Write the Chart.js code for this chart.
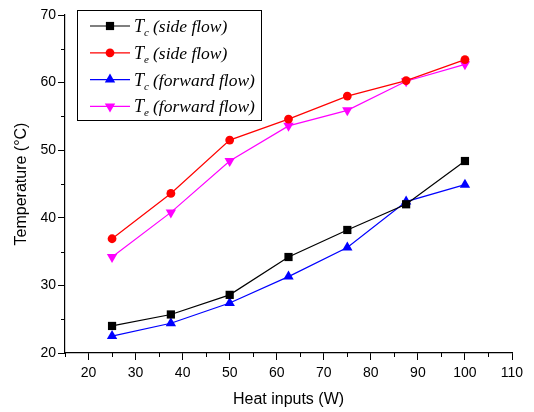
<!DOCTYPE html>
<html>
<head>
<meta charset="utf-8">
<script src="https://cdn.jsdelivr.net/npm/chart.js@4/dist/chart.umd.min.js"></script>
<style>
  html, body { margin: 0; padding: 0; background: #fff; }
  #wrap { width: 534px; height: 412px; }
</style>
</head>
<body>
<div id="wrap"><canvas id="temps"></canvas></div>
<script>
// heat input levels (W)
const heatInputs = [25, 37.5, 50, 62.5, 75, 87.5, 100];

// temperatures (°C)
const tcSide = [24.0, 25.7, 28.6, 34.2, 38.2, 42.0, 48.4];
const teSide = [36.9, 43.6, 51.5, 54.6, 58.0, 60.3, 63.4];
const tcForward = [22.5, 24.4, 27.4, 31.3, 35.6, 42.4, 44.9];
const teForward = [34.2, 40.8, 48.4, 53.6, 55.9, 60.2, 62.7];

const xTicks = [20, 30, 40, 50, 60, 70, 80, 90, 100, 110];
const yTicks = [20, 30, 40, 50, 60, 70];

// legend text: subscript letter + flow mode
const legendSubs = ['c', 'e', 'c', 'e'];
const legendModes = ['(side flow)', '(side flow)', '(forward flow)', '(forward flow)'];

function pts(ys) {
  return heatInputs.map((x, i) => ({ x: x, y: ys[i] }));
}

function series(data, color, style, radius, rotation) {
  return {
    data: pts(data),
    borderColor: color,
    backgroundColor: color,
    borderWidth: 1.2,
    pointStyle: style,
    pointRadius: radius,
    pointRotation: rotation || 0,
    pointBorderWidth: 0,
    tension: 0
  };
}

// short minor ticks at the 5-unit marks
const minorTicks = {
  id: 'minorTicks',
  afterDraw(chart) {
    const ctx = chart.ctx;
    const xs = chart.scales.x, ys = chart.scales.y;
    ctx.save();
    ctx.strokeStyle = '#000';
    ctx.lineWidth = 1;
    ctx.beginPath();
    for (let v = 15; v <= 110; v += 10) {
      const px = Math.round(xs.getPixelForValue(v)) + 0.5;
      ctx.moveTo(px, ys.bottom);
      ctx.lineTo(px, ys.bottom + 4);
    }
    for (let v = 25; v < 70; v += 10) {
      const py = Math.round(ys.getPixelForValue(v)) + 0.5;
      ctx.moveTo(xs.left, py);
      ctx.lineTo(xs.left - 4, py);
    }
    ctx.stroke();
    ctx.restore();
  }
};

// boxed legend with subscripted T labels
const boxLegend = {
  id: 'boxLegend',
  afterDraw(chart) {
    const ctx = chart.ctx;
    const left = 77.5, top = 10.5, w = 184, h = 110;
    ctx.save();
    ctx.fillStyle = '#fff';
    ctx.fillRect(left, top, w, h);
    ctx.strokeStyle = '#000';
    ctx.lineWidth = 1;
    ctx.strokeRect(left, top, w, h);
    chart.data.datasets.forEach((ds, i) => {
      const y = 26 + i * 26.8;
      ctx.strokeStyle = ds.borderColor;
      ctx.lineWidth = 1.2;
      ctx.beginPath();
      ctx.moveTo(90, y);
      ctx.lineTo(130, y);
      ctx.stroke();
      ctx.fillStyle = ds.backgroundColor;
      Chart.helpers.drawPoint(ctx, {
        pointStyle: ds.pointStyle,
        radius: ds.pointRadius,
        rotation: ds.pointRotation,
        borderWidth: 0
      }, 110, y);
      ctx.fillStyle = '#000';
      ctx.textBaseline = 'alphabetic';
      ctx.textAlign = 'left';
      ctx.font = 'italic 18px "Liberation Serif", serif';
      ctx.fillText('T', 134, y + 6);
      const tw = ctx.measureText('T').width;
      ctx.font = 'italic 11px "Liberation Serif", serif';
      ctx.fillText(legendSubs[i], 134 + tw, y + 10);
      ctx.font = 'italic 17.5px "Liberation Serif", serif';
      ctx.fillText(legendModes[i], 153, y + 6);
    });
    ctx.restore();
  }
};

new Chart(document.getElementById('temps'), {
  type: 'line',
  data: {
    datasets: [
      series(tcSide, '#000000', 'rect', 5.8),
      series(teSide, '#ff0000', 'circle', 4.4),
      series(tcForward, '#0000ff', 'triangle', 6),
      series(teForward, '#ff00ff', 'triangle', 6, 180)
    ]
  },
  options: {
    responsive: true,
    maintainAspectRatio: false,
    animation: false,
    layout: { padding: { top: 15, right: 22, left: 0, bottom: 0 } },
    plugins: { legend: { display: false }, tooltip: { enabled: false } },
    scales: {
      x: {
        type: 'linear',
        min: 15,
        max: 110,
        afterBuildTicks(scale) { scale.ticks = xTicks.map(v => ({ value: v })); },
        afterFit(scale) { scale.height = 59; },
        border: { display: true, color: '#000', width: 1.2 },
        grid: { drawOnChartArea: false, drawTicks: true, tickLength: 7, color: '#000' },
        ticks: { color: '#000', padding: 5, font: { family: 'Liberation Sans, Arial', size: 14 } },
        title: {
          display: true,
          text: 'Heat inputs (W)',
          color: '#000',
          padding: { top: 2, bottom: 3 },
          font: { family: 'Liberation Sans, Arial', size: 16 }
        }
      },
      y: {
        type: 'linear',
        min: 20,
        max: 70,
        afterBuildTicks(scale) { scale.ticks = yTicks.map(v => ({ value: v })); },
        afterFit(scale) { scale.width = 65; },
        border: { display: true, color: '#000', width: 1.2 },
        grid: { drawOnChartArea: false, drawTicks: true, tickLength: 7, color: '#000' },
        ticks: { color: '#000', padding: 2, font: { family: 'Liberation Sans, Arial', size: 14 } },
        title: {
          display: true,
          text: 'Temperature (°C)',
          color: '#000',
          padding: { top: 12, bottom: 0 },
          font: { family: 'Liberation Sans, Arial', size: 16 }
        }
      }
    }
  },
  plugins: [minorTicks, boxLegend]
});
</script>
</body>
</html>
